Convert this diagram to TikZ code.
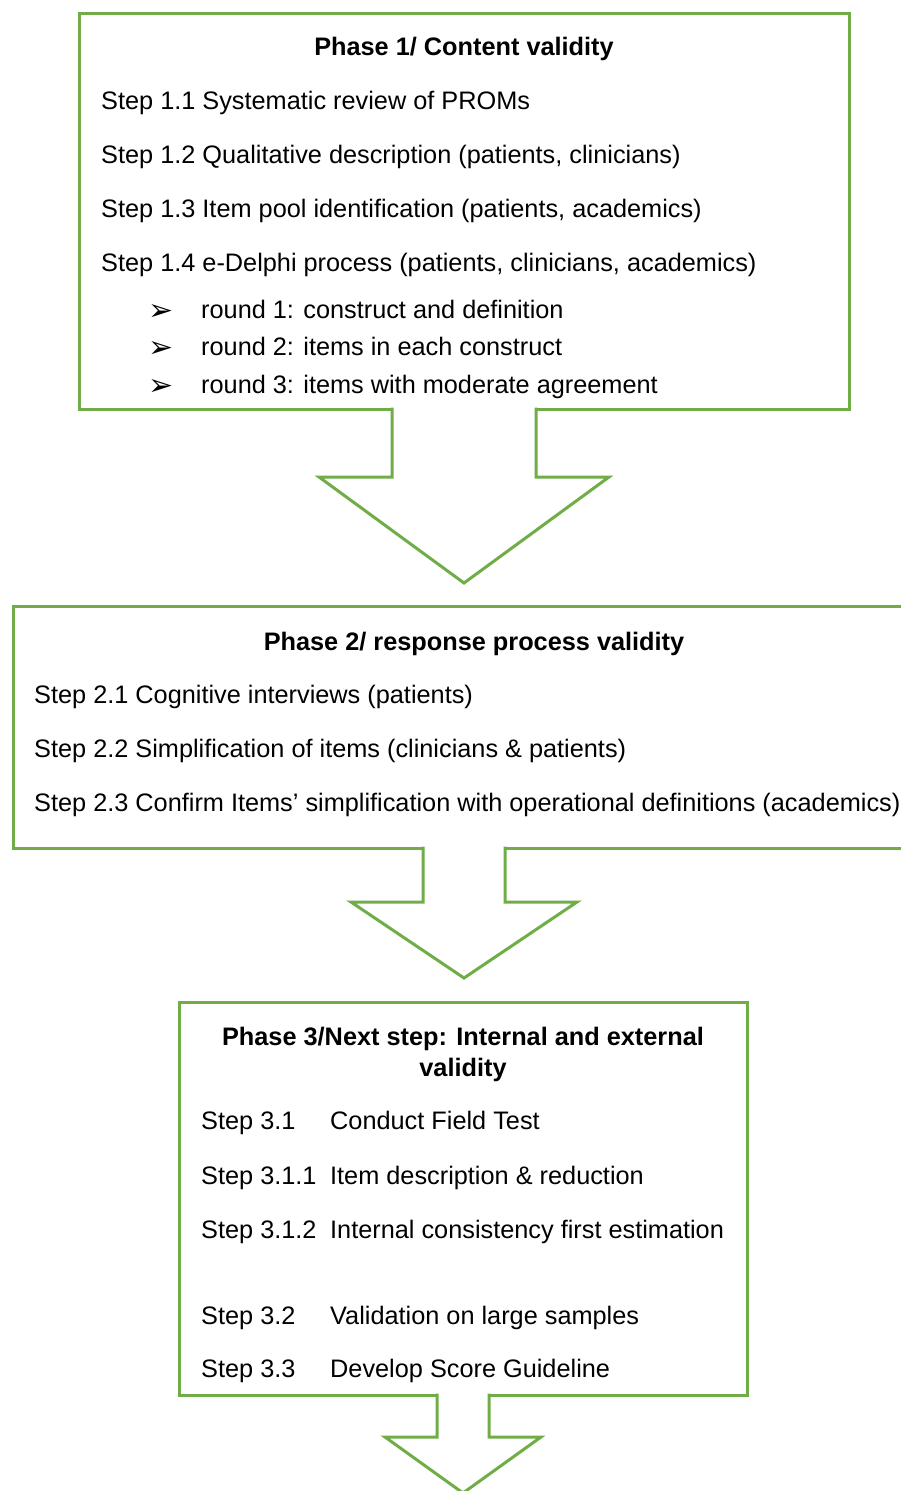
\documentclass[tikz,border=0pt]{standalone}
\usepackage{fontspec}
\setmainfont{Liberation Sans}
\newfontfamily\dingfont{DejaVu Sans}
\usetikzlibrary{calc}
\definecolor{phasegreen}{RGB}{112,173,71}

\begin{document}
\begin{tikzpicture}[x=1pt,y=-1pt,
	phase box/.style={draw=phasegreen,line width=3pt,inner sep=0pt,outer sep=0pt},
	block arrow/.style={draw=phasegreen,fill=white,line width=3pt,line join=miter},
	step text/.style={anchor=base west,inner sep=0pt,font=\fontsize{25.3}{31}\selectfont},
	title text/.style={inner sep=0pt,align=center,font=\fontsize{25.3}{31}\selectfont\bfseries}
]
	\useasboundingbox (0,0) rectangle (901,1491);

	% the three phases
	\node[phase box,minimum width=770pt,minimum height=396pt] (phase1) at (464,211) {};
	\node[phase box,minimum width=904pt,minimum height=242pt] (phase2) at (465,727) {};
	\node[phase box,minimum width=568pt,minimum height=393pt] (phase3) at (463,1198.5) {};

	% phase 1
	\node[title text,anchor=base] (title1) at (464,55) {Phase 1/ Content validity};
	\foreach \txt [count=\i] in {Step 1.1 Systematic review of PROMs,
		{Step 1.2 Qualitative description (patients, clinicians)},
		{Step 1.3 Item pool identification (patients, academics)},
		{Step 1.4 e-Delphi process (patients, clinicians, academics)}}
		\node[step text] (step1-\i) at (101,{55+54*\i}) {\txt};
	\foreach \txt [count=\i] in {round 1: construct and definition,
		round 2: items in each construct,
		round 3: items with moderate agreement} {
		\node[step text] (round-\i) at (201,{280.5+37.5*\i}) {\txt};
		\node[anchor=base west,inner sep=0pt,font=\dingfont\fontsize{30}{34}\selectfont] (bullet-\i) at (148,{282.5+37.5*\i}) {➢};
	}

	% phase 2
	\node[title text,anchor=base] (title2) at (474,650) {Phase 2/ response process validity};
	\foreach \txt [count=\i] in {Step 2.1 Cognitive interviews (patients),
		{Step 2.2 Simplification of items (clinicians \& patients)},
		{Step 2.3 Confirm Items’ simplification with operational definitions (academics)}}
		\node[step text] (step2-\i) at (34,{649+54*\i}) {\txt};

	% phase 3
	\node[title text,anchor=north] (title3) at (463,1027) {Phase 3/Next step: Internal and external\\validity};
	\foreach \y/\lbl/\txt [count=\i] in {1129/Step 3.1/Conduct Field Test,
		1184/Step 3.1.1/Item description \& reduction,
		1238/Step 3.1.2/Internal consistency first estimation,
		1324/Step 3.2/Validation on large samples,
		1377/Step 3.3/Develop Score Guideline}
		\node[step text] (step3-\i) at (201,\y) {\makebox[129pt][l]{\lbl}\txt};

	% block arrows between the phases
	\draw[block arrow] ($(phase1.south)+(-72,-1.5)$) -- ++(0,69.5) -- ++(-73,0)
		-- ($(phase1.south)+(0,174)$) -- ++(145,-106) -- ++(-73,0) -- ++(0,-69.5);
	\draw[block arrow] ($(phase2.south)+(-42,-1.5)$) -- ++(0,55.5) -- ++(-72,0)
		-- ($(phase2.south)+(-1,130)$) -- ++(113,-76) -- ++(-72,0) -- ++(0,-55.5);
	\draw[block arrow] ($(phase3.south)+(-26,-1.5)$) -- ++(0,43.5) -- ++(-52,0)
		-- ($(phase3.south)+(0,98)$) -- ++(78,-56) -- ++(-52,0) -- ++(0,-43.5);
\end{tikzpicture}
\end{document}
